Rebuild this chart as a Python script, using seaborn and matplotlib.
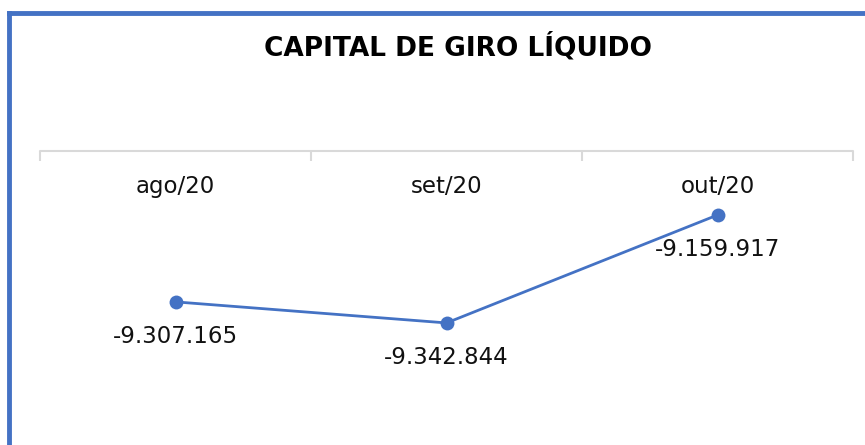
import matplotlib
matplotlib.use("Agg")
import matplotlib.pyplot as plt
import seaborn as sns
import pandas as pd
from matplotlib.lines import Line2D

# data
months = ["ago/20", "set/20", "out/20"]
values = [-9307165, -9342844, -9159917]
labels = ["-9.307.165", "-9.342.844", "-9.159.917"]

blue = "#4472C4"
grey = "#D9D9D9"

sns.set_theme(style="white")
plt.rcParams["font.family"] = ["DejaVu Sans"]

df = pd.DataFrame({"month": months, "value": values})
df["pos"] = range(len(months))

fig = plt.figure(figsize=(8.65, 4.45), dpi=100)
ax = fig.add_axes([40 / 865, 1 - 440 / 445, 813 / 865, 289 / 445])

sns.lineplot(data=df, x="pos", y="value", ax=ax, color=blue, linewidth=2,
             marker="o", markersize=10, markeredgewidth=0)

for x, y, t in zip(df["pos"], df["value"], labels):
    ax.annotate(t, (x, y), xytext=(0, -25), textcoords="offset points",
                ha="center", va="center", fontsize=16.5, color="#111111")

ax.set_xlim(-0.5, 2.5)
ax.set_ylim(-9541272, -9051442)
ax.set_xlabel("")
ax.set_ylabel("")
ax.set_yticks([])

# category axis on top with boundary ticks
for s in ["left", "right", "bottom", "top"]:
    ax.spines[s].set_visible(False)
ax.axhline(-9051442, color=grey, linewidth=1.5, clip_on=False)
ax.set_xticks([-0.5, 0.5, 1.5, 2.5])
ax.set_xticklabels([])
ax.xaxis.set_ticks_position("top")
ax.tick_params(axis="x", top=True, bottom=False, direction="in", length=7,
               width=1.5, color=grey)
for i, m in enumerate(months):
    ax.text(i, 1 - 36 / 289, m, transform=ax.get_xaxis_transform(),
            ha="center", va="center", fontsize=16.5, color="#111111")

fig.text(458 / 865, 1 - 47 / 445, "CAPITAL DE GIRO LÍQUIDO", ha="center",
         va="center", fontsize=19, fontweight="bold", color="black")

# chart border (left and top edges visible)
fig.add_artist(Line2D([9 / 865, 9 / 865], [0, 1 - 12.5 / 445],
                      transform=fig.transFigure, color=blue, linewidth=3.5,
                      solid_capstyle="projecting"))
fig.add_artist(Line2D([9 / 865, 1], [1 - 12.5 / 445, 1 - 12.5 / 445],
                      transform=fig.transFigure, color=blue, linewidth=3.5,
                      solid_capstyle="projecting"))

fig.savefig("out.png", dpi=100)
